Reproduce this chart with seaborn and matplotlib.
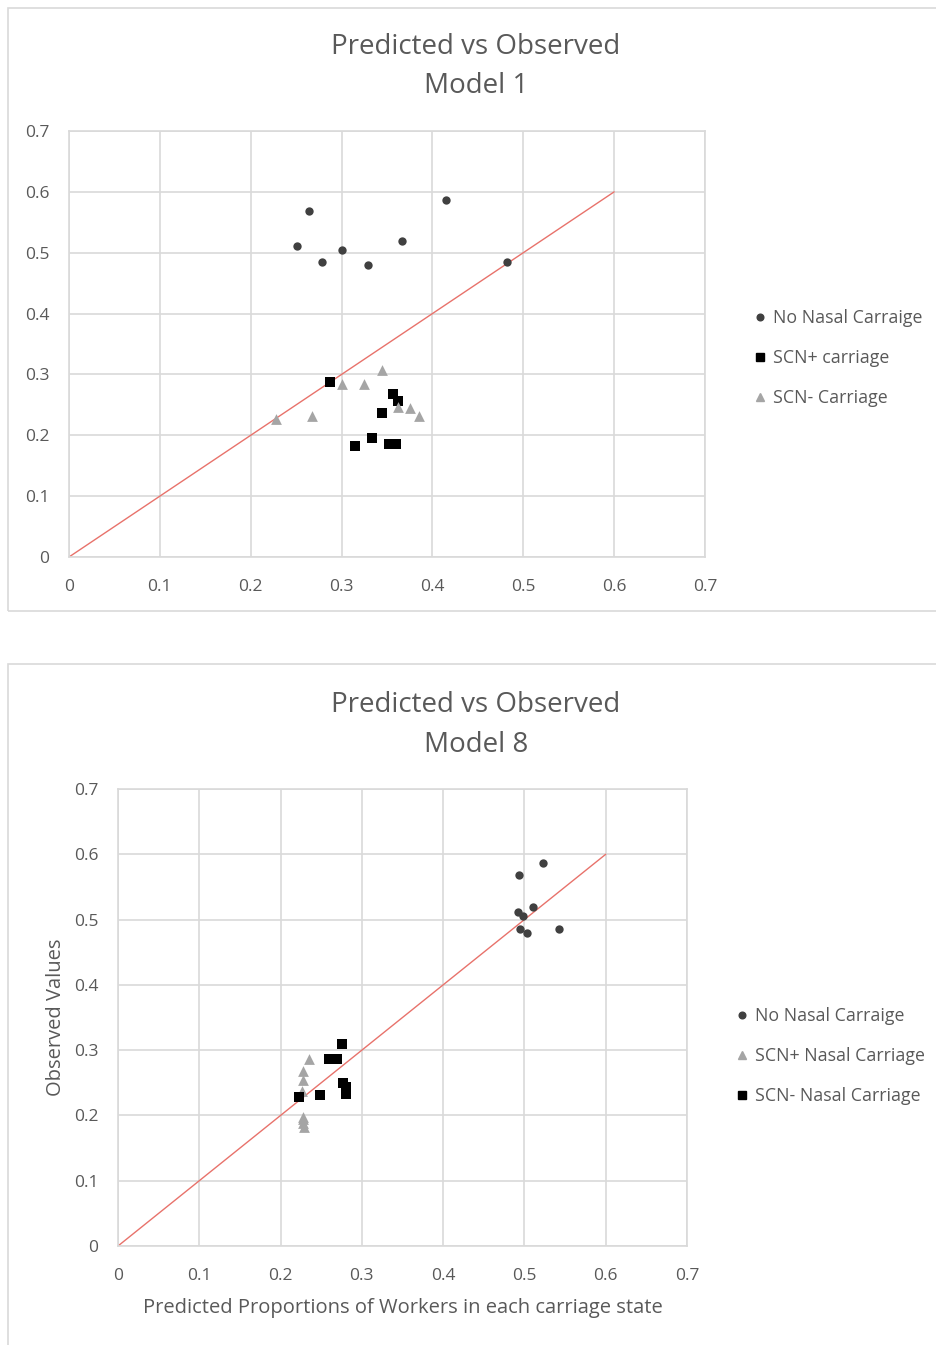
import numpy             as np
import pandas            as pd
import seaborn           as sns
import matplotlib.pyplot as plt
from matplotlib.lines   import Line2D
from matplotlib.patches import Rectangle

# Model 1 - predicted (x) vs observed (y)
m1_none_x = [0.251, 0.264, 0.279, 0.301, 0.329, 0.366, 0.415, 0.482]
m1_none_y = [0.511, 0.569, 0.484, 0.504, 0.479, 0.520, 0.586, 0.484]
m1_pos_x  = [0.2875, 0.357, 0.362, 0.345, 0.333, 0.315, 0.352, 0.360]
m1_pos_y  = [0.287, 0.268, 0.256, 0.236, 0.195, 0.182, 0.186, 0.185]
m1_neg_x  = [0.228, 0.268, 0.300, 0.325, 0.345, 0.362, 0.375, 0.385]
m1_neg_y  = [0.227, 0.231, 0.285, 0.285, 0.308, 0.246, 0.245, 0.232]

# Model 8
m8_none_x = [0.523, 0.493, 0.511, 0.492, 0.498, 0.495, 0.503, 0.542]
m8_none_y = [0.586, 0.569, 0.520, 0.512, 0.505, 0.485, 0.479, 0.485]
m8_pos_x  = [0.2345, 0.227, 0.227, 0.226, 0.227, 0.228, 0.227, 0.229]
m8_pos_y  = [0.286, 0.268, 0.255, 0.237, 0.198, 0.194, 0.188, 0.183]
m8_neg_x  = [0.275, 0.260, 0.270, 0.277, 0.281, 0.281, 0.248, 0.223]
m8_neg_y  = [0.310, 0.286, 0.286, 0.249, 0.244, 0.233, 0.232, 0.228]

ticks     = [0, 0.1, 0.2, 0.3, 0.4, 0.5, 0.6, 0.7]
tick_lbls = ['0', '0.1', '0.2', '0.3', '0.4', '0.5', '0.6', '0.7']
line_xy   = [0, 0.6]

sns.set_style('white')
plt.rcParams['font.family'] = ['Open Sans', 'DejaVu Sans']

TXT   = '#595959'
GRID  = '#d9d9d9'
DARK  = '#404040'
LIGHT = '#a5a5a5'
RED   = '#e8726b'

W, H = 937, 1345
fig = plt.figure(figsize=(W / 100, H / 100), dpi=100)

def fx(px): return px / W
def fy(py): return 1 - py / H

# panel borders
fig.patches.append(Rectangle((fx(8), fy(611)), fx(940) - fx(8), fy(8) - fy(611),
                             transform=fig.transFigure, fill=False, ec='#d9d9d9', lw=1.2))
fig.patches.append(Rectangle((fx(8), fy(1350)), fx(940) - fx(8), fy(664) - fy(1350),
                             transform=fig.transFigure, fill=False, ec='#d9d9d9', lw=1.2))

def make_frame(series, px_box, titles, legend_xy):
    left, top, right, bottom = px_box
    ax = fig.add_axes([fx(left), fy(bottom), fx(right) - fx(left), fy(top) - fy(bottom)])
    df = pd.concat([pd.DataFrame({'x': x, 'y': y, 'grp': lbl}) for lbl, x, y, *_ in series])
    for lbl, x, y, mk, col, s in series:
        sns.scatterplot(data=df[df.grp == lbl], x='x', y='y', marker=mk, color=col,
                        s=s, linewidth=0, ax=ax, legend=False, zorder=3)
    sns.lineplot(x=line_xy, y=line_xy, color=RED, lw=1, ax=ax, zorder=2)
    ax.set_xlim(0, 0.7)
    ax.set_ylim(0, 0.7)
    ax.set_xticks(ticks, tick_lbls)
    ax.set_yticks(ticks, tick_lbls)
    ax.tick_params(length=0, labelsize=12.5, labelcolor=TXT, pad=14)
    ax.tick_params(axis='x', pad=16)
    ax.grid(True, color=GRID, lw=1.2)
    ax.set_axisbelow(True)
    for sp in ax.spines.values():
        sp.set_color(GRID)
        sp.set_linewidth(1.2)
    ax.set_xlabel('')
    ax.set_ylabel('')
    handles = [Line2D([], [], ls='', marker=mk, color=col, markersize=np.sqrt(s) * 0.8)
               for _, _, _, mk, col, s in series]
    fig.legend(handles, [sr[0] for sr in series], loc='center left',
               bbox_to_anchor=(fx(legend_xy[0]), fy(legend_xy[1])),
               frameon=False, fontsize=12.8, labelcolor=TXT, labelspacing=1.24,
               handlelength=0.6, handletextpad=0.4, borderpad=0)
    for txt, py in titles:
        fig.text(fx(476), fy(py + 3), txt, ha='center', va='center', fontsize=20, color=TXT)
    return ax

ax1 = make_frame([('No Nasal Carraige', m1_none_x, m1_none_y, 'o', DARK, 36),
                  ('SCN+ carriage',     m1_pos_x,  m1_pos_y,  's', 'black', 60),
                  ('SCN- Carriage',     m1_neg_x,  m1_neg_y,  '^', LIGHT, 60)],
                 (69, 131, 705, 557), [('Predicted vs Observed', 44), ('Model 1', 83)], (746, 358))

ax8 = make_frame([('No Nasal Carraige',   m8_none_x, m8_none_y, 'o', DARK, 36),
                  ('SCN+ Nasal Carriage', m8_pos_x,  m8_pos_y,  '^', LIGHT, 60),
                  ('SCN- Nasal Carriage', m8_neg_x,  m8_neg_y,  's', 'black', 60)],
                 (118, 789, 687, 1246), [('Predicted vs Observed', 702), ('Model 8', 742)], (728, 1056))
ax8.set_xlabel('Predicted Proportions of Workers in each carriage state',
               fontsize=14.5, color=TXT, labelpad=10)
ax8.set_ylabel('Observed Values', fontsize=14.5, color=TXT, labelpad=6)

fig.savefig('out.png', dpi=100)
